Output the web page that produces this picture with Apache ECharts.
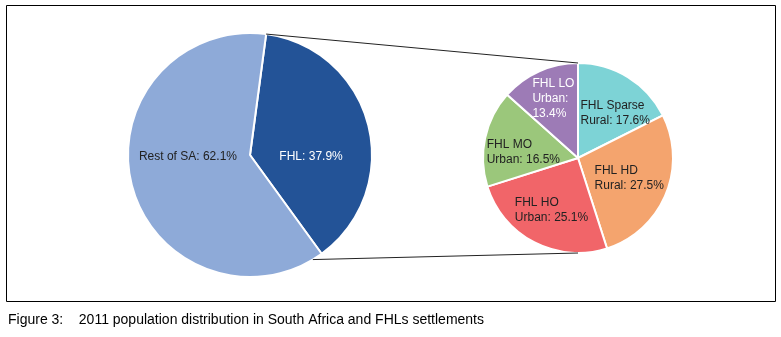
<!DOCTYPE html>
<html>
<head>
<meta charset="utf-8">
<script src="https://cdn.jsdelivr.net/npm/echarts@6/dist/echarts.min.js"></script>
<style>
  html, body { margin: 0; padding: 0; background: #fff; }
  #chart { width: 781px; height: 337px; }
</style>
</head>
<body>
<div id="chart"></div>
<script>
// population shares
const mainNames = ["FHL", "Rest of SA"];
const mainValues = [37.9, 62.1];
const mainColors = ["#235397", "#8eaad8"];

const fhlNames = ["FHL Sparse\nRural", "FHL HD\nRural", "FHL HO\nUrban", "FHL MO\nUrban", "FHL LO\nUrban"];
const fhlValues = [17.6, 27.5, 25.1, 16.5, 13.4];
const fhlColors = ["#7dd3d6", "#f4a46e", "#f16569", "#9bc77b", "#9d7bb6"];

const captionText = "Figure 3:    2011 population distribution in South Africa and FHLs settlements";

// label nudges (px) so the text sits where it does in the figure
const mainLabelShift = [[-1, 17], [0, -14]];
const fhlLabelShift = [[-24, -2], [-30, 1], [-40, 7], [-42, 5], [-25, -13]];

let chart = echarts.init(document.getElementById("chart"));

// pie geometry
let leftC = [250, 155], leftR = 122, leftStart = 82.4;
let rightC = [578, 158], rightR = 95;

function onCircle(c, r, degFromTop) {
    let a = degFromTop * Math.PI / 180;
    return [c[0] + r * Math.sin(a), c[1] - r * Math.cos(a)];
}

// connector lines: from the FHL slice edge to the top / bottom of the breakdown pie
let fhlStartDeg = 90 - leftStart;
let p1 = onCircle(leftC, leftR, fhlStartDeg);
let p2 = onCircle(rightC, rightR, 0);
let p3 = onCircle(leftC, leftR, 149);
let p4 = onCircle(rightC, rightR, 180);

let font = "Liberation Sans, Arial, sans-serif";

let option = {
    animation: false,
    textStyle: { fontFamily: font },
    graphic: [
        {
            type: "rect",
            shape: { x: 6.5, y: 5.5, width: 769, height: 296 },
            style: { fill: null, stroke: "#000", lineWidth: 1 },
            silent: true
        },
        {
            type: "line", z: 10,
            shape: { x1: p1[0], y1: p1[1], x2: p2[0], y2: p2[1] },
            style: { stroke: "#222", lineWidth: 1 }
        },
        {
            type: "line", z: 10,
            shape: { x1: p3[0], y1: p3[1], x2: p4[0], y2: p4[1] },
            style: { stroke: "#222", lineWidth: 1 }
        },
        {
            type: "text",
            left: 8, top: 313,
            style: { text: captionText, fill: "#000", font: "14px " + font }
        }
    ],
    series: [
        {
            type: "pie",
            center: leftC,
            radius: leftR,
            startAngle: leftStart,
            clockwise: true,
            avoidLabelOverlap: false,
            itemStyle: { borderColor: "#fff", borderWidth: 2 },
            label: {
                position: "inside",
                formatter: "{b}: {c}%",
                fontSize: 12,
                color: "#222",
                fontFamily: font
            },
            labelLayout: function (p) {
                let s = mainLabelShift[p.dataIndex];
                return { dx: s[0], dy: s[1] };
            },
            data: mainNames.map((n, i) => ({
                name: n,
                value: mainValues[i],
                itemStyle: { color: mainColors[i] },
                label: i === 0 ? { color: "#fff" } : {}
            }))
        },
        {
            type: "pie",
            center: rightC,
            radius: rightR,
            startAngle: 90,
            clockwise: true,
            avoidLabelOverlap: false,
            itemStyle: { borderColor: "#fff", borderWidth: 2 },
            label: {
                position: "inside",
                formatter: "{b}: {c}%",
                fontSize: 12,
                lineHeight: 15,
                color: "#222",
                fontFamily: font
            },
            labelLayout: function (p) {
                let s = fhlLabelShift[p.dataIndex];
                return { align: "left", dx: s[0], dy: s[1], hideOverlap: false };
            },
            data: fhlNames.map((n, i) => ({
                name: n,
                value: fhlValues[i],
                itemStyle: { color: fhlColors[i] },
                label: i === 4 ? { color: "#fff", formatter: "{b}:\n{c}%" } : {}
            }))
        }
    ]
};

chart.setOption(option);
</script>
</body>
</html>
